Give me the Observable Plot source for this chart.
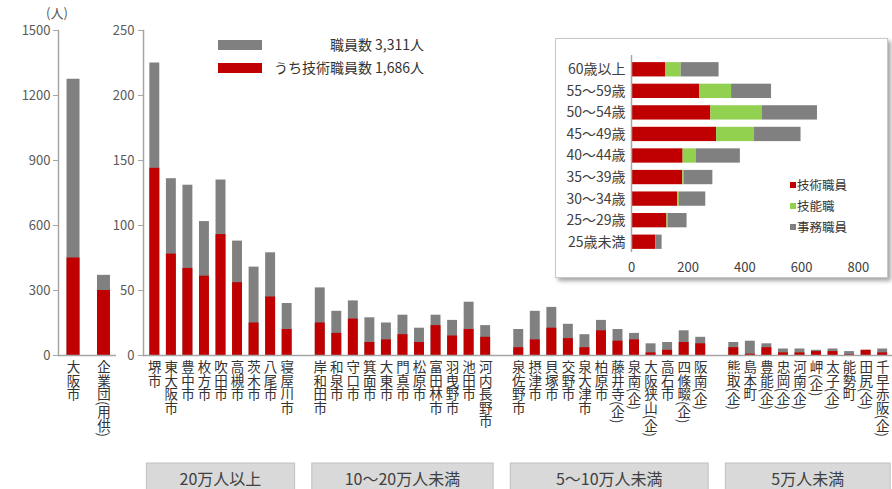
<!DOCTYPE html>
<html><head><meta charset="utf-8">
<script src="https://cdn.jsdelivr.net/npm/d3@7"></script>
<script src="https://cdn.jsdelivr.net/npm/@observablehq/plot@0.6"></script>
<style>
body{margin:0;background:#fff;font-family:"Noto Sans CJK JP","Noto Sans",sans-serif;}
#wrap{position:relative;width:892px;height:489px;overflow:hidden;background:#fff;}
.abs{position:absolute;}
#wrap svg{position:absolute;left:0;top:0;}
</style></head><body><div id="wrap"></div>
<script>
// ---- data ----
const leftNames = ["大阪市", "企業団(用供)"];
const leftTotal = [1275, 370];
const leftTech = [450, 300];

const cities20 = ["堺市","東大阪市","豊中市","枚方市","吹田市","高槻市","茨木市","八尾市","寝屋川市"];
const total20 = [225,136,131,103,135,88,68,79,40];
const tech20 = [144,78,67,61,93,56,25,45,20];

const cities10 = ["岸和田市","和泉市","守口市","箕面市","大東市","門真市","松原市","富田林市","羽曳野市","池田市","河内長野市"];
const total10 = [52,34,42,29,25,31,21,31,27,41,23];
const tech10 = [25,17,28,10,12,16,10,23,15,20,14];

const cities5 = ["泉佐野市","摂津市","貝塚市","交野市","泉大津市","柏原市","藤井寺(企)","泉南(企)","大阪狭山(企)","高石市","四條畷(企)","阪南(企)"];
const total5 = [20,34,37,24,16,27,20,17,9,10,19,14];
const tech5 = [6,12,21,13,6,19,11,12,2,4,10,9];

const citiesS = ["熊取(企)","島本町","豊能(企)","忠岡(企)","河南(企)","岬(企)","太子(企)","能勢町","田尻(企)","千早赤阪(企)"];
const totalS = [10,11,9,5,5,4,5,3,4,5];
const techS = [6,1,6,2,2,3,3,0.5,4,2];

const groupLabels = ["20万人以上","10〜20万人未満","5〜10万人未満","5万人未満"];
const leftTicks = [0,300,600,900,1200,1500];
const rightTicks = [0,50,100,150,200,250];

const ageLabels = ["60歳以上","55〜59歳","50〜54歳","45〜49歳","40〜44歳","35〜39歳","30〜34歳","25〜29歳","25歳未満"];
const techByAge = [120,240,280,300,182,181,163,125,86];
const skillByAge = [55,113,182,134,47,4,6,4,0];
const clerkByAge = [134,141,194,164,155,102,93,67,22];
const ageSeries = ["技術職員","技能職","事務職員"];
const ageTicks = [0,200,400,600,800];

const legendMain = ["職員数 3,311人","うち技術職員数 1,686人"];

// ---- build ----
const FONT = '"Noto Sans CJK JP","Noto Sans",sans-serif';
const GRAY = "#808080", RED = "#c00000", GREEN = "#92d050", AXIS = "#a6a6a6";
const wrap = document.getElementById("wrap");
const plain = d => String(d);

const groups = [
  {label: groupLabels[0], names: cities20, total: total20, tech: tech20},
  {label: groupLabels[1], names: cities10, total: total10, tech: tech10},
  {label: groupLabels[2], names: cities5, total: total5, tech: tech5},
  {label: groupLabels[3], names: citiesS, total: totalS, tech: techS}
];
const slots = [];
const rows = [];
groups.forEach((g, gi) => {
  if (gi > 0) slots.push("_gap" + gi);
  g.names.forEach((n, i) => { slots.push(n); rows.push({name: n, total: g.total[i], tech: g.tech[i]}); });
});

const right = Plot.plot({
  width: 892, height: 489, marginLeft: 143, marginRight: 0, marginTop: 30, marginBottom: 134,
  style: {fontFamily: FONT, fontSize: "13px", background: "transparent", color: "#595959"},
  x: {type: "band", domain: slots, range: [143, 893.5], paddingInner: 0.4, paddingOuter: 0.385, round: false, axis: null},
  y: {domain: [0, 250], range: [355, 30], axis: null},
  marks: [
    Plot.text(rows, {x: "name", text: "name", frameAnchor: "bottom", lineAnchor: "bottom", textAnchor: "start", dy: 5, fontSize: 13.5, fill: "#333"}),
    Plot.barY(rows, {x: "name", y1: 0, y2: "total", fill: GRAY}),
    Plot.barY(rows, {x: "name", y1: 0, y2: "tech", fill: RED}),
    Plot.axisY({ticks: rightTicks, tickFormat: plain, tickSize: 5, tickPadding: 4, stroke: AXIS, fill: "#595959", label: null}),
    Plot.ruleY([0], {stroke: AXIS, strokeWidth: 1.5}),
    Plot.frame({anchor: "left", stroke: AXIS, strokeWidth: 1.5})
  ]
});
wrap.appendChild(right);
d3.select(right).select('g[aria-label="text"]').selectAll("text").style("writing-mode", "vertical-rl");

// group boxes
const xs = right.scale("x");
const gsel = d3.select(right).append("g");
groups.forEach(g => {
  const x0 = xs.apply(g.names[0]) - 3;
  const x1 = xs.apply(g.names[g.names.length - 1]) + xs.bandwidth + 3;
  gsel.append("rect").attr("x", x0).attr("y", 463).attr("width", x1 - x0).attr("height", 40)
    .attr("fill", "#d9d9d9").attr("stroke", "#bfbfbf");
  gsel.append("text").attr("x", (x0 + x1) / 2).attr("y", 479).attr("dy", "0.35em")
    .attr("text-anchor", "middle").attr("font-size", 16).attr("fill", "#404040").attr("font-family", FONT).text(g.label);
});

// left chart
const leftRows = leftNames.map((n, i) => ({name: n, total: leftTotal[i], tech: leftTech[i]}));
const left = Plot.plot({
  width: 116, height: 489, marginLeft: 58, marginRight: 0, marginTop: 30, marginBottom: 134,
  style: {fontFamily: FONT, fontSize: "13px", background: "transparent", color: "#595959"},
  x: {type: "band", domain: leftNames, range: [58, 118.5], paddingInner: 0.574, paddingOuter: 0.28, round: false, axis: null},
  y: {domain: [0, 1500], range: [355, 30], axis: null},
  marks: [
    Plot.text(leftRows, {x: "name", text: "name", frameAnchor: "bottom", lineAnchor: "bottom", textAnchor: "start", dy: 5, fontSize: 13.5, fill: "#333"}),
    Plot.barY(leftRows, {x: "name", y1: 0, y2: "total", fill: GRAY}),
    Plot.barY(leftRows, {x: "name", y1: 0, y2: "tech", fill: RED}),
    Plot.axisY({ticks: leftTicks, tickFormat: plain, tickSize: 5, tickPadding: 3, stroke: AXIS, fill: "#595959", label: null}),
    Plot.ruleY([0], {stroke: AXIS, strokeWidth: 1.5}),
    Plot.frame({anchor: "left", stroke: AXIS, strokeWidth: 1.5})
  ]
});
wrap.appendChild(left);
d3.select(left).select('g[aria-label="text"]').selectAll("text").style("writing-mode", "vertical-rl");

// unit label
const unit = document.createElement("div");
unit.className = "abs";
unit.style.cssText = "left:40px;top:3px;width:34px;text-align:center;font-size:13px;color:#595959;";
unit.textContent = "(人)";
wrap.appendChild(unit);

// main legend
[[GRAY, 40, legendMain[0]], [RED, 63, legendMain[1]]].forEach(([c, y, t]) => {
  const sw = document.createElement("div");
  sw.className = "abs";
  sw.style.cssText = `left:218px;top:${y}px;width:44px;height:10px;background:${c};`;
  wrap.appendChild(sw);
  const tx = document.createElement("div");
  tx.className = "abs";
  tx.style.cssText = `right:${892 - 424}px;top:${y - 6}px;font-size:14px;color:#333;white-space:nowrap;line-height:20px;`;
  tx.textContent = t;
  wrap.appendChild(tx);
});

// inset
const inset = document.createElement("div");
inset.className = "abs";
inset.style.cssText = "left:555px;top:38px;width:331px;height:238px;border:1px solid #c8c8c8;background:#fff;box-shadow:3px 3px 4px rgba(0,0,0,0.35);";
wrap.appendChild(inset);
const ageRows = ageLabels.flatMap((a, i) => [
  {age: a, type: ageSeries[0], v: techByAge[i]},
  {age: a, type: ageSeries[1], v: skillByAge[i]},
  {age: a, type: ageSeries[2], v: clerkByAge[i]}
]);
const insetPlot = Plot.plot({
  width: 331, height: 238, marginLeft: 75, marginRight: 0, marginTop: 16, marginBottom: 25,
  style: {fontFamily: FONT, fontSize: "13px", background: "transparent", color: "#404040"},
  x: {domain: [0, 800], range: [75, 301.8], axis: null},
  y: {domain: ageLabels, range: [19.5, 213.5], paddingInner: 0.336, paddingOuter: 0.168, round: false, axis: null},
  color: {domain: ageSeries, range: [RED, GREEN, GRAY]},
  marks: [
    Plot.barX(ageRows, {y: "age", x: "v", fill: "type"}),
    Plot.ruleX([0], {stroke: AXIS, strokeWidth: 1.5}),
    Plot.axisX({ticks: ageTicks, tickFormat: plain, tickSize: 0, tickPadding: 10, fill: "#404040", label: null, fontSize: 13}),
    Plot.axisY({tickSize: 0, tickPadding: 6, fill: "#404040", label: null, fontSize: 14})
  ]
});
insetPlot.style.position = "absolute";
inset.appendChild(insetPlot);
[[RED, 146], [GREEN, 166.7], [GRAY, 188.3]].forEach(([c, y], i) => {
  const sq = document.createElement("div");
  sq.className = "abs";
  sq.style.cssText = `left:234px;top:${y - 3}px;width:6px;height:6px;background:${c};`;
  inset.appendChild(sq);
  const tx = document.createElement("div");
  tx.className = "abs";
  tx.style.cssText = `left:241px;top:${y - 10}px;font-size:12.5px;line-height:20px;color:#333;white-space:nowrap;`;
  tx.textContent = ageSeries[i];
  inset.appendChild(tx);
});
</script></body></html>
